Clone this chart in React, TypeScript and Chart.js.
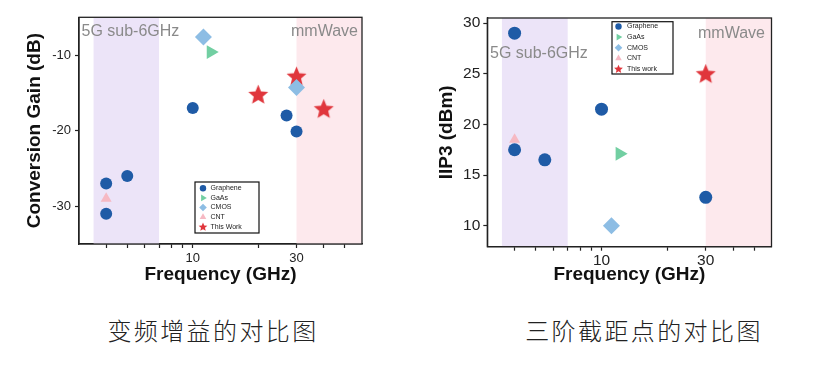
import React, { useEffect, useRef } from "react";
import { Chart, registerables } from "chart.js";

Chart.register(...registerables);

// ---------- data ----------
const seriesNamesCG = ["Graphene", "GaAs", "CMOS", "CNT", "This Work"];
const seriesNamesIIP3 = ["Graphene", "GaAs", "CMOS", "CNT", "This work"];

// Conversion gain (dB) vs frequency (GHz)
const grapheneFreqCG = [4, 4, 5, 10, 27, 30];
const grapheneCG = [-27, -31, -26, -17, -18, -20.1];
const gaasFreqCG = [12.1];
const gaasCG = [-9.6];
const cmosFreqCG = [11.2, 30];
const cmosCG = [-7.6, -14.3];
const cntFreqCG = [4];
const cntCG = [-29];
const thisWorkFreqCG = [20, 30, 40];
const thisWorkCG = [-15.2, -12.8, -17.1];

// IIP3 (dBm) vs frequency (GHz)
const grapheneFreqIIP3 = [4, 4, 5.5, 10, 30];
const grapheneIIP3 = [29, 17.5, 16.5, 21.5, 12.8];
const gaasFreqIIP3 = [12.1];
const gaasIIP3 = [17.1];
const cmosFreqIIP3 = [11.1];
const cmosIIP3 = [10];
const cntFreqIIP3 = [4];
const cntIIP3 = [18.5];
const thisWorkFreqIIP3 = [30];
const thisWorkIIP3 = [25];

// axes
const freqMin = 3;
const freqMax = 60;
const freqTicks = [4, 5, 6, 7, 8, 9, 10, 20, 30, 40, 50];
const freqLabels = [10, 30];
const cgTicks = [-30, -20, -10];
const iip3Ticks = [10, 15, 20, 25, 30];
const subBand = [3.5, 7];
const mmBand = [30, 60];
const captionCG = "变频增益的对比图";
const captionIIP3 = "三阶截距点的对比图";

// ---------- styling ----------
const FONT = "'Liberation Sans', Arial, sans-serif";
const colors = {
  Graphene: "#1f5ba6",
  GaAs: "#72cfa2",
  CMOS: "#8dbde4",
  CNT: "#f6b9c3",
  Star: "#e0363c",
};
const AXIS = "#222";

function drawStarPath(ctx: CanvasRenderingContext2D, cx: number, cy: number, R: number) {
  const r = R * 0.45;
  ctx.beginPath();
  for (let i = 0; i < 10; i++) {
    const a = -Math.PI / 2 + (i * Math.PI) / 5;
    const rr = i % 2 === 0 ? R : r;
    ctx.lineTo(cx + rr * Math.cos(a), cy + rr * Math.sin(a));
  }
  ctx.closePath();
}

function makeStar(R: number, color: string) {
  const s = Math.ceil(R * 2 + 2);
  const c = document.createElement("canvas");
  c.width = s;
  c.height = s;
  const ctx = c.getContext("2d")!;
  drawStarPath(ctx, s / 2, s / 2 + R * 0.08, R);
  ctx.fillStyle = color;
  ctx.fill();
  return c;
}

function drawMarker(ctx: CanvasRenderingContext2D, shape: string, x: number, y: number, s: number, color: string) {
  ctx.save();
  ctx.fillStyle = color;
  ctx.beginPath();
  if (shape === "circle") {
    ctx.arc(x, y, s, 0, Math.PI * 2);
  } else if (shape === "tri-right") {
    ctx.moveTo(x + s, y);
    ctx.lineTo(x - s / 2, y - s * 0.866);
    ctx.lineTo(x - s / 2, y + s * 0.866);
    ctx.closePath();
  } else if (shape === "tri-up") {
    ctx.moveTo(x, y - s);
    ctx.lineTo(x + s * 0.866, y + s / 2);
    ctx.lineTo(x - s * 0.866, y + s / 2);
    ctx.closePath();
  } else if (shape === "diamond") {
    ctx.moveTo(x, y - s);
    ctx.lineTo(x + s, y);
    ctx.lineTo(x, y + s);
    ctx.lineTo(x - s, y);
    ctx.closePath();
  } else if (shape === "star") {
    drawStarPath(ctx, x, y + s * 0.08, s);
  }
  ctx.fill();
  ctx.restore();
}

const legendShapes = ["circle", "tri-right", "diamond", "tri-up", "star"];
const legendColors = [colors.Graphene, colors.GaAs, colors.CMOS, colors.CNT, colors.Star];

const decorPlugin = {
  id: "decor",
  beforeDatasetsDraw(chart: any, _args: any, opts: any) {
    const { ctx, chartArea: a, scales } = chart;
    const xs = scales.x;
    ctx.save();
    ctx.beginPath();
    ctx.rect(a.left, a.top, a.right - a.left, a.bottom - a.top);
    ctx.clip();
    ctx.fillStyle = "#ece4f8";
    const x1 = xs.getPixelForValue(subBand[0]);
    const x2 = xs.getPixelForValue(subBand[1]);
    ctx.fillRect(x1, a.top, x2 - x1, a.bottom - a.top);
    ctx.fillStyle = "#fde9ed";
    const x3 = xs.getPixelForValue(mmBand[0]);
    const x4 = xs.getPixelForValue(mmBand[1]);
    ctx.fillRect(x3, a.top, x4 - x3, a.bottom - a.top);
    // band labels
    ctx.fillStyle = "#8a8a8a";
    ctx.font = `16px ${FONT}`;
    ctx.textBaseline = "middle";
    ctx.textAlign = "left";
    ctx.fillText("5G sub-6GHz", a.left + opts.subDx, opts.subY);
    ctx.textAlign = "right";
    ctx.fillText("mmWave", a.right + opts.mmDx, opts.mmY);
    ctx.restore();
  },
  afterDraw(chart: any, _args: any, opts: any) {
    const { ctx, chartArea: a } = chart;
    ctx.save();
    ctx.strokeStyle = AXIS;
    ctx.lineWidth = 1.3;
    ctx.strokeRect(a.left, a.top, a.right - a.left, a.bottom - a.top);
    // legend
    const L = opts.legend;
    ctx.fillStyle = "#fff";
    ctx.fillRect(L.x, L.y, L.w, L.h);
    ctx.strokeStyle = "#111";
    ctx.lineWidth = 1.2;
    ctx.strokeRect(L.x, L.y, L.w, L.h);
    ctx.font = `7px ${FONT}`;
    ctx.textBaseline = "middle";
    ctx.textAlign = "left";
    L.names.forEach((n: string, i: number) => {
      const y = L.y + L.top + i * L.row;
      const sz = legendShapes[i] === "star" ? 4.6 : legendShapes[i] === "circle" ? 3.2 : 3.8;
      drawMarker(ctx, legendShapes[i], L.x + L.mx, y, sz, legendColors[i]);
      ctx.fillStyle = "#222";
      ctx.fillText(n, L.x + L.tx, y);
    });
    ctx.restore();
  },
};

function buildConfig(p: any) {
  const star = makeStar(10.5, colors.Star);
  const ds = (label: string, xs: number[], ys: number[], style: any, color: string, radius: number, rotation = 0) => ({
    label,
    data: xs.map((x, i) => ({ x, y: ys[i] })),
    pointStyle: style,
    rotation,
    pointRadius: radius,
    pointHoverRadius: radius,
    backgroundColor: color,
    borderColor: color,
    borderWidth: 0,
    showLine: false,
  });
  const d = p.data;
  return {
    type: "scatter",
    data: {
      datasets: [
        ds(p.names[0], d.gF, d.g, "circle", colors.Graphene, p.circR),
        ds(p.names[1], d.aF, d.a, "triangle", colors.GaAs, 8, 90),
        ds(p.names[2], d.cF, d.c, "rectRot", colors.CMOS, 8.5),
        ds(p.names[3], d.nF, d.n, "triangle", colors.CNT, 6.3),
        ds(p.names[4], d.tF, d.t, star, colors.Star, 10.5),
      ],
    },
    plugins: [decorPlugin],
    options: {
      responsive: false,
      animation: false,
      events: [],
      layout: { padding: { left: 0, right: p.padRight, top: p.padTop, bottom: 0 } },
      plugins: {
        legend: { display: false },
        tooltip: { enabled: false },
        decor: p.decor,
      },
      scales: {
        x: {
          type: "logarithmic",
          min: freqMin,
          max: freqMax,
          afterBuildTicks: (s: any) => {
            s.ticks = freqTicks.map((v) => ({ value: v, major: freqLabels.includes(v) }));
          },
          afterFit: (s: any) => {
            s.height = p.xHeight;
          },
          ticks: {
            autoSkip: false,
            maxRotation: 0,
            minRotation: 0,
            padding: p.xTickPad,
            color: AXIS,
            font: { family: FONT, size: p.tickSize },
            callback: (v: any) => (freqLabels.includes(Number(v)) ? String(v) : ""),
          },
          grid: {
            drawOnChartArea: false,
            drawTicks: true,
            tickLength: 4,
            tickColor: AXIS,
            tickWidth: 1.2,
          },
          border: { display: true, color: AXIS, width: 1.3 },
          title: {
            display: true,
            text: "Frequency (GHz)",
            color: "#111",
            font: { family: FONT, size: 19, weight: "bold" },
            padding: { top: 0, bottom: 13.6 },
          },
        },
        y: {
          type: "linear",
          min: p.yMin,
          max: p.yMax,
          afterBuildTicks: (s: any) => {
            s.ticks = p.yTicks.map((v: number) => ({ value: v }));
          },
          afterFit: (s: any) => {
            s.width = p.yWidth;
          },
          ticks: {
            padding: p.yTickPad,
            color: AXIS,
            font: { family: FONT, size: p.tickSize },
            callback: (v: any) => String(v),
          },
          grid: {
            drawOnChartArea: false,
            drawTicks: true,
            tickLength: 4,
            tickColor: AXIS,
            tickWidth: 1.2,
          },
          border: { display: true, color: AXIS, width: 1.3 },
          title: {
            display: true,
            text: p.yTitle,
            color: "#111",
            font: { family: FONT, size: 19, weight: "bold" },
            padding: { top: p.yTitlePad, bottom: 0 },
          },
        },
      },
    },
  };
}

function ChartCanvas({ cfg, left, width }: { cfg: () => any; left: number; width: number }) {
  const ref = useRef<HTMLCanvasElement | null>(null);
  useEffect(() => {
    if (!ref.current) return;
    const chart = new Chart(ref.current, cfg());
    return () => chart.destroy();
  }, []);
  return (
    <canvas
      ref={ref}
      width={width}
      height={300}
      style={{ position: "absolute", left, top: 0, width, height: 300, display: "block" }}
    />
  );
}

const cgConfig = () =>
  buildConfig({
    names: seriesNamesCG,
    data: {
      gF: grapheneFreqCG, g: grapheneCG,
      aF: gaasFreqCG, a: gaasCG,
      cF: cmosFreqCG, c: cmosCG,
      nF: cntFreqCG, n: cntCG,
      tF: thisWorkFreqCG, t: thisWorkCG,
    },
    circR: 6,
    padRight: 38,
    padTop: 17.3,
    xHeight: 56,
    yWidth: 79,
    yMin: -35,
    yMax: -5,
    yTicks: cgTicks,
    yTitle: "Conversion Gain (dB)",
    yTitlePad: 23.6,
    tickSize: 13,
    xTickPad: 3,
    yTickPad: 4,
    decor: {
      subDx: 2.5,
      subY: 31.7,
      mmDx: -4,
      mmY: 31.7,
      legend: { x: 195, y: 182, w: 64, h: 51, top: 6.3, row: 9.6, mx: 8, tx: 15.5, names: seriesNamesCG },
    },
  });

const iip3Config = () =>
  buildConfig({
    names: seriesNamesIIP3,
    data: {
      gF: grapheneFreqIIP3, g: grapheneIIP3,
      aF: gaasFreqIIP3, a: gaasIIP3,
      cF: cmosFreqIIP3, c: cmosIIP3,
      nF: cntFreqIIP3, n: cntIIP3,
      tF: thisWorkFreqIIP3, t: thisWorkIIP3,
    },
    circR: 6.5,
    padRight: 41.5,
    padTop: 18,
    xHeight: 53.3,
    yWidth: 87.3,
    yMin: 7.93,
    yMax: 30.5,
    yTicks: iip3Ticks,
    yTitle: "IIP3 (dBm)",
    yTitlePad: 35.3,
    tickSize: 15.5,
    xTickPad: 1,
    yTickPad: 3,
    decor: {
      subDx: 2.7,
      subY: 53.3,
      mmDx: -6.5,
      mmY: 33.3,
      legend: { x: 212, y: 21.7, w: 61, h: 52.3, top: 4.8, row: 10.6, mx: 6.5, tx: 15, names: seriesNamesIIP3 },
    },
  });

const captionStyle = (center: number): React.CSSProperties => ({
  position: "absolute",
  top: 316,
  left: center - 160,
  width: 320,
  textAlign: "center",
  fontFamily: "'Noto Sans CJK SC', sans-serif",
  fontWeight: 300,
  fontSize: 24,
  letterSpacing: 2.4,
  color: "#222",
  lineHeight: "28px",
  whiteSpace: "nowrap",
});

export default function App() {
  return (
    <div
      style={{
        position: "fixed",
        left: 0,
        top: 0,
        width: 813,
        height: 373,
        background: "#fff",
        overflow: "hidden",
      }}
    >
      <ChartCanvas cfg={cgConfig} left={0} width={400} />
      <ChartCanvas cfg={iip3Config} left={400} width={413} />
      <div style={captionStyle(213)}>{captionCG}</div>
      <div style={captionStyle(644)}>{captionIIP3}</div>
    </div>
  );
}
